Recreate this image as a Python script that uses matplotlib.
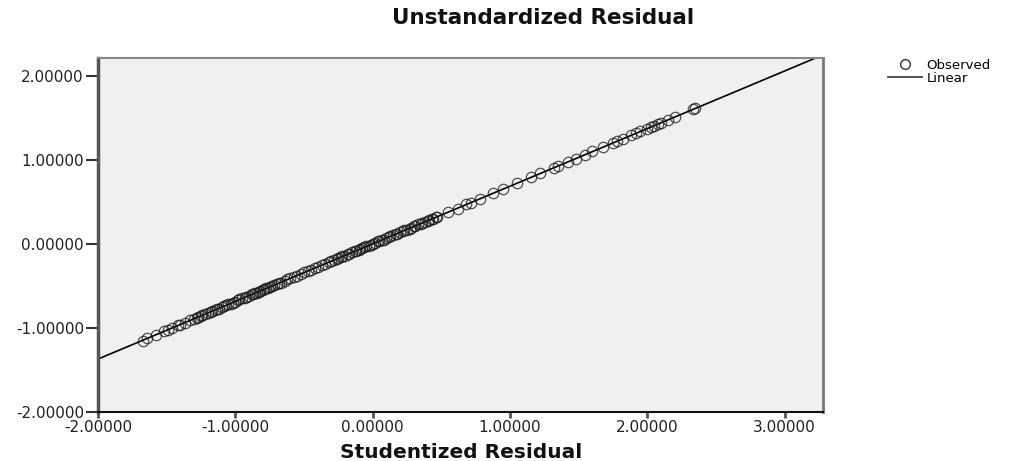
import numpy as np
import matplotlib
matplotlib.use("Agg")
import matplotlib.pyplot as plt
from matplotlib.lines import Line2D

# ---- data ----
studentized_resid = [
    -1.67, -1.64, -1.58, -1.52, -1.49, -1.46, -1.42, -1.40, -1.37, -1.30,
    -1.27, -1.25, -1.22, -1.20, -1.17, -1.15, -1.12, -1.10, -1.07, -1.05,
    -1.02, -1.00, -0.98, -0.95, -0.93, -0.90, -0.88, -0.86, -0.84, -0.82,
    -0.80, -0.78, -0.75, -0.72, -0.70, -0.67, -0.64, -0.60, -0.55, -0.50,
    -0.45, -0.40, -0.37, -0.32, -0.28, -0.25, -0.22, -0.20, -0.17, -0.15,
    -0.12, -0.10, -0.08, -0.05, -0.03, 0.00, 0.02, 0.05, 0.07, 0.10,
    0.12, 0.15, 0.17, 0.20, 0.22, 0.25, 0.28, 0.30, 0.33, 0.35,
    0.38, 0.40, 0.43, 0.47, 0.55, 0.62, 0.68, 0.72, 0.78, 0.88,
    0.95, 1.05, 1.15, 1.22, 1.32, 1.35, 1.42, 1.48, 1.55, 1.60,
    1.68, 1.75, 1.78, 1.82, 1.88, 1.92, 1.95, 2.00, 2.03, 2.05,
    2.08, 2.10, 2.15, 2.20, 2.33, 2.35,
    -1.33, -1.28, -1.24, -1.18, -1.13, -1.08, -1.03, -0.97, -0.92, -0.87,
    -0.83, -0.79, -0.76, -0.73, -0.68, -0.62, -0.57, -0.52, -0.47, -0.42,
    -0.35, -0.30, -0.26, -0.23, -0.18, -0.13, -0.09, -0.06, -0.01, 0.04,
    0.08, 0.13, 0.18, 0.23, 0.27, 0.31, 0.36, 0.41, 0.44, 0.46,
]
unstandardized_resid = [
    -1.15, -1.12, -1.08, -1.04, -1.02, -1.00, -0.97, -0.96, -0.94, -0.89,
    -0.87, -0.86, -0.84, -0.82, -0.80, -0.79, -0.77, -0.75, -0.73, -0.72,
    -0.70, -0.69, -0.67, -0.65, -0.64, -0.62, -0.60, -0.59, -0.58, -0.56,
    -0.55, -0.53, -0.51, -0.49, -0.48, -0.46, -0.44, -0.41, -0.38, -0.34,
    -0.31, -0.27, -0.25, -0.22, -0.19, -0.17, -0.15, -0.14, -0.12, -0.10,
    -0.08, -0.07, -0.05, -0.03, -0.02, 0.00, 0.01, 0.03, 0.05, 0.07,
    0.08, 0.10, 0.12, 0.14, 0.15, 0.17, 0.19, 0.21, 0.23, 0.24,
    0.26, 0.27, 0.29, 0.32, 0.38, 0.42, 0.47, 0.49, 0.53, 0.60,
    0.65, 0.72, 0.79, 0.84, 0.90, 0.92, 0.97, 1.01, 1.06, 1.10,
    1.15, 1.20, 1.22, 1.25, 1.29, 1.32, 1.34, 1.37, 1.39, 1.40,
    1.42, 1.44, 1.47, 1.51, 1.60, 1.61,
    -0.91, -0.88, -0.85, -0.81, -0.77, -0.74, -0.71, -0.66, -0.63, -0.60,
    -0.57, -0.54, -0.52, -0.50, -0.47, -0.42, -0.39, -0.36, -0.32, -0.29,
    -0.24, -0.21, -0.18, -0.16, -0.12, -0.09, -0.06, -0.04, -0.01, 0.03,
    0.05, 0.09, 0.12, 0.16, 0.18, 0.21, 0.25, 0.28, 0.30, 0.32,
]
x_ticks = [-2, -1, 0, 1, 2, 3]
y_ticks = [-2, -1, 0, 1, 2]
title = "Unstandardized Residual"
x_label = "Studentized Residual"
legend_labels = ["Observed", "Linear"]

# ---- figure ----
fig = plt.figure(figsize=(10.13, 4.61), dpi=100)
ax = fig.add_axes([98 / 1013, 1 - 412 / 461, (823 - 98) / 1013, (412 - 58) / 461])
ax.set_facecolor("#f0f0f0")

x = np.array(studentized_resid)
y = np.array(unstandardized_resid)
slope, intercept = np.polyfit(x, y, 1)

xmin, xmax = -2.0, 3.28
ymin, ymax = -2.0, 2.21
ax.set_xlim(xmin, xmax)
ax.set_ylim(ymin, ymax)

xl = np.array([xmin, xmax])
ax.plot(xl, slope * xl + intercept, color="black", lw=1.2, zorder=2)
ax.plot(x, y, linestyle="none", marker="o", markersize=7.5,
        markerfacecolor="none", markeredgecolor="#1a1a1a",
        markeredgewidth=0.9, alpha=0.75, zorder=3)

ax.set_xticks(x_ticks)
ax.set_yticks(y_ticks)
ax.set_xticklabels([f"{v:.5f}" for v in x_ticks], fontsize=11,
                   color="#222222")
ax.set_yticklabels([f"{v:.5f}" for v in y_ticks], fontsize=11,
                   color="#222222")
ax.tick_params(axis="y", direction="out", length=8.6, width=1.5,
               color="#333333", pad=1.5)
ax.tick_params(axis="x", direction="out", length=4.3, width=2,
               color="#555555", pad=1.5)

ax.spines["left"].set_color("#555555")
ax.spines["left"].set_linewidth(2.5)
ax.spines["bottom"].set_color("#111111")
ax.spines["bottom"].set_linewidth(1.5)
ax.spines["top"].set_color("#888888")
ax.spines["top"].set_linewidth(1.5)
ax.spines["right"].set_color("#777777")
ax.spines["right"].set_linewidth(2)

fig.text(543 / 1013, 1 - 18 / 461, title, ha="center", va="center",
         fontsize=15.5, fontweight="bold", color="#111111")
fig.text(461 / 1013, 1 - 452 / 461, x_label, ha="center", va="center",
         fontsize=14.5, fontweight="bold", color="#111111")

handles = [
    Line2D([], [], linestyle="none", marker="o", markersize=7,
           markerfacecolor="none", markeredgecolor="#333333",
           markeredgewidth=1.0),
    Line2D([], [], color="#333333", lw=1.2),
]
fig.legend(handles, legend_labels, loc="upper left",
           bbox_to_anchor=(888 / 1013, 1 - 59 / 461), frameon=False,
           fontsize=9.5, handlelength=2.6, handletextpad=0.3,
           labelspacing=0.0, borderpad=0, borderaxespad=0)

fig.savefig("out.png", dpi=100)
